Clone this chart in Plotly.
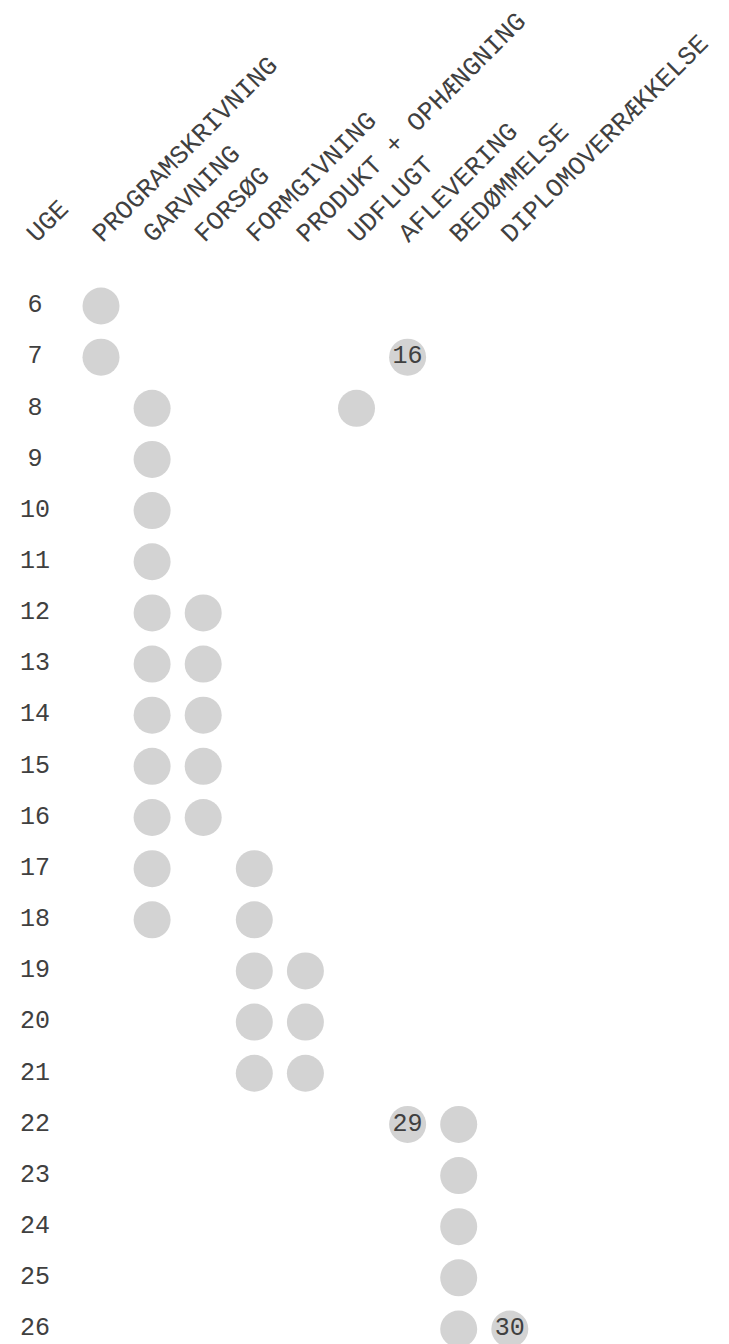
import plotly.graph_objects as go

# ---- data ----
weeks = list(range(6, 27))
activities = ["PROGRAMSKRIVNING", "GARVNING", "FORSØG", "FORMGIVNING",
              "PRODUKT + OPHÆNGNING", "UDFLUGT", "AFLEVERING", "BEDØMMELSE",
              "DIPLOMOVERRÆKKELSE"]
week_header = "UGE"

programskrivning_weeks = [6, 7]
garvning_weeks = [8, 9, 10, 11, 12, 13, 14, 15, 16, 17, 18]
forsog_weeks = [12, 13, 14, 15, 16]
formgivning_weeks = [17, 18, 19, 20, 21]
produkt_weeks = [19, 20, 21]
udflugt_weeks = [8]
aflevering_weeks = [7, 22]
aflevering_labels = ["16", "29"]
bedommelse_weeks = [22, 23, 24, 25, 26]
diplom_weeks = [26]
diplom_labels = ["30"]

schedule = [
    (programskrivning_weeks, None),
    (garvning_weeks, None),
    (forsog_weeks, None),
    (formgivning_weeks, None),
    (produkt_weeks, None),
    (udflugt_weeks, None),
    (aflevering_weeks, aflevering_labels),
    (bedommelse_weeks, None),
    (diplom_weeks, diplom_labels),
]

# ---- styling / layout constants ----
W, H = 729, 1344
FONT = "Courier New, Liberation Mono, monospace"
TXT = "#404040"
DOT = "#d3d3d3"
COL_PX = 51.1      # px per column
ROW_PX = 51.15     # px per week
X0 = 1 - 93 / COL_PX
Y0 = 6 - 298 / ROW_PX
UGE_X = X0 + 27 / COL_PX

fig = go.Figure()

xs, ys, ts = [], [], []
for i, (wk, lab) in enumerate(schedule):
    for k, w in enumerate(wk):
        xs.append(i + 1)
        ys.append(w)
        ts.append(lab[k] if lab else "")

fig.add_trace(go.Scatter(
    x=xs, y=ys, text=ts, mode="markers+text",
    marker=dict(size=37, color=DOT, line=dict(width=0)),
    textposition="middle center",
    textfont=dict(family=FONT, size=25, color=TXT),
    hoverinfo="skip", showlegend=False, cliponaxis=False,
))

fig.add_trace(go.Scatter(
    x=[UGE_X] * len(weeks), y=weeks, text=[str(w) for w in weeks],
    mode="text", textposition="middle center",
    textfont=dict(family=FONT, size=25, color=TXT),
    hoverinfo="skip", showlegend=False, cliponaxis=False,
))

headers = [week_header] + activities
hx = [UGE_X] + [i + 1 for i in range(len(activities))]
for x, t in zip(hx, headers):
    fig.add_annotation(
        x=x, xref="x", y=1 - 244 / H, yref="paper",
        text=t, textangle=-45, showarrow=False,
        xanchor="left", yanchor="bottom", xshift=-17,
        font=dict(family=FONT, size=26, color=TXT),
    )

fig.update_layout(
    width=W, height=H,
    margin=dict(l=0, r=0, t=0, b=0),
    paper_bgcolor="white", plot_bgcolor="white",
    xaxis=dict(range=[X0, X0 + W / COL_PX], visible=False, fixedrange=True),
    yaxis=dict(range=[Y0 + H / ROW_PX, Y0], visible=False, fixedrange=True),
)

fig.write_html("out.html")
